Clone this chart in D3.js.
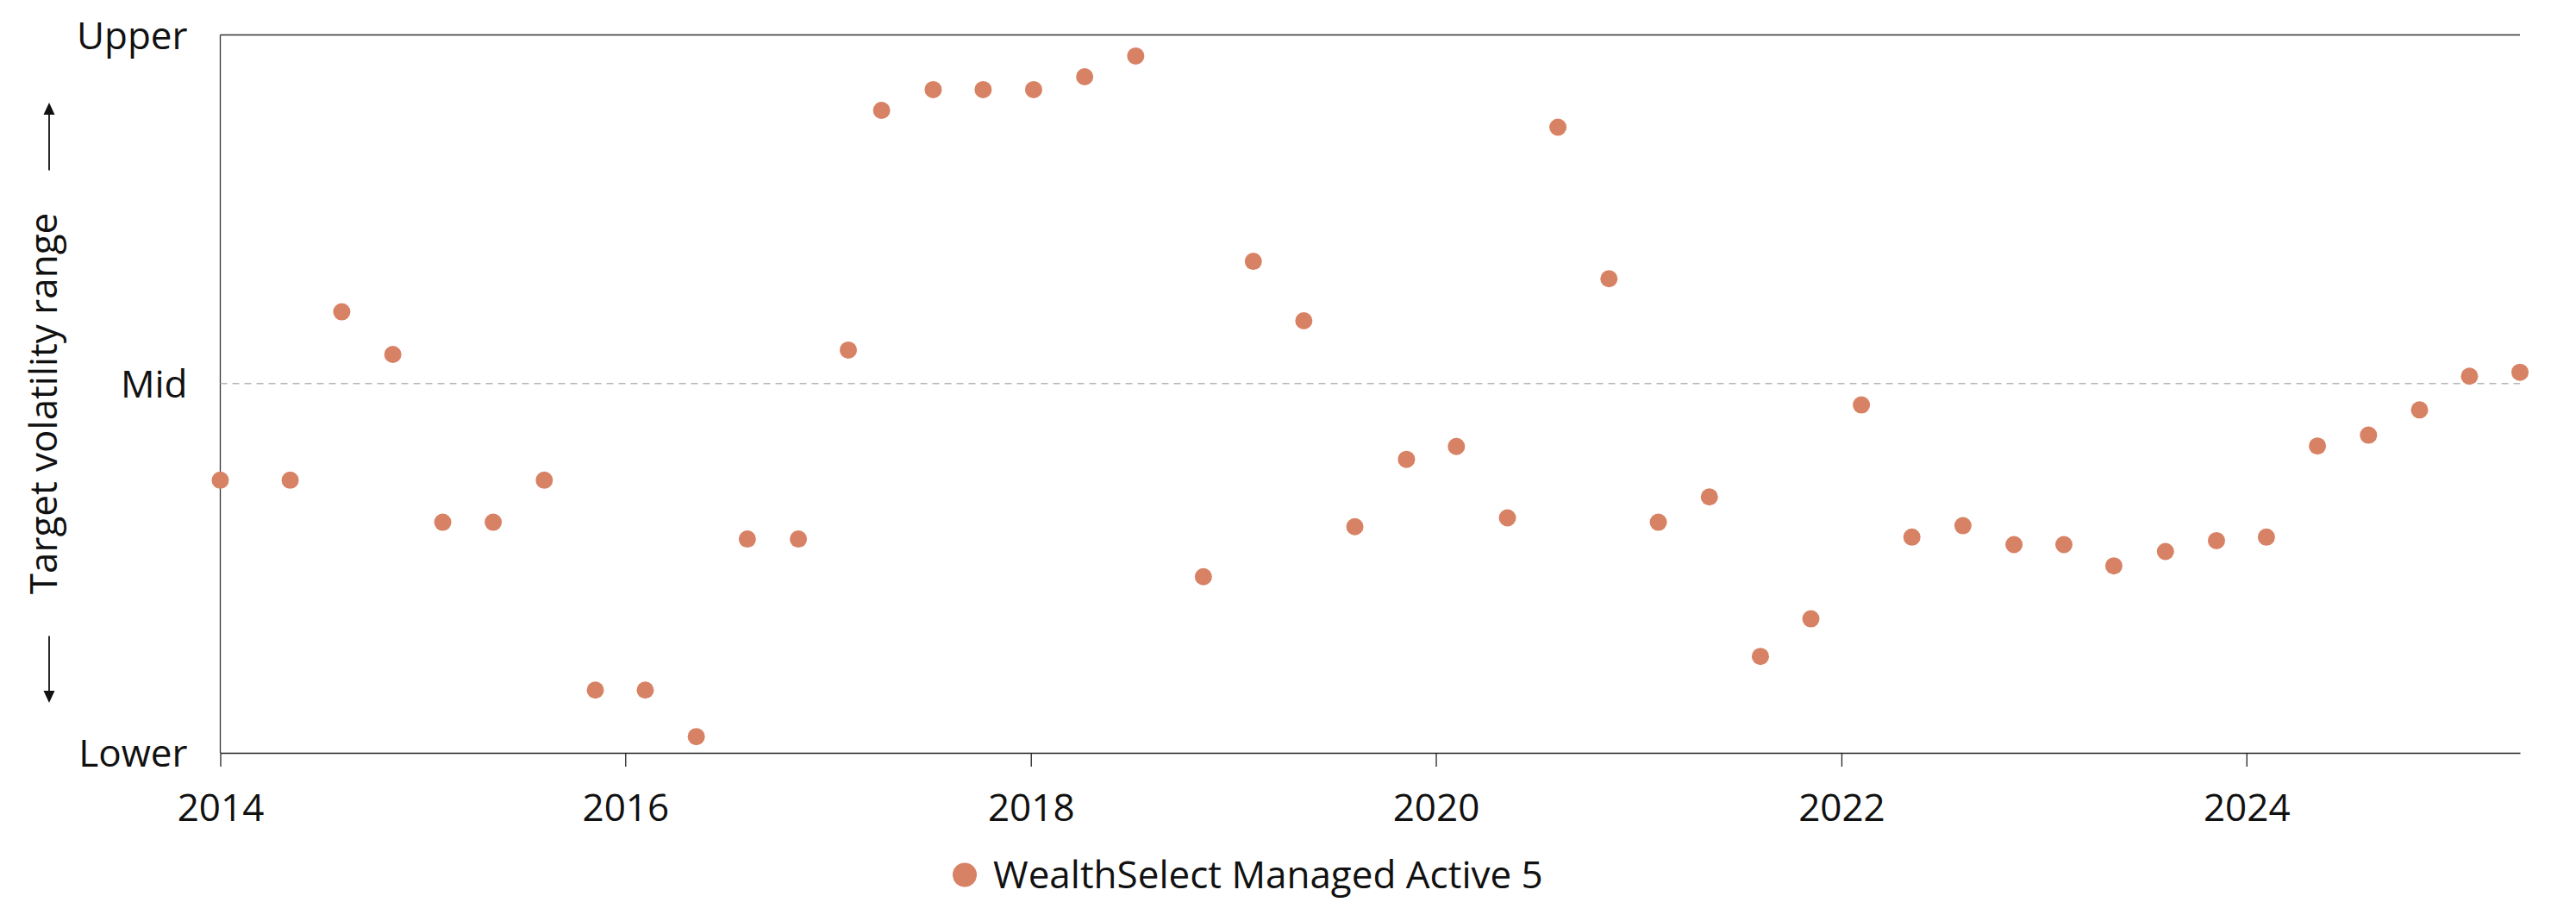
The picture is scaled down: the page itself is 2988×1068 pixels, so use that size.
<!DOCTYPE html>
<html>
<head>
<meta charset="utf-8">
<script src="https://cdn.jsdelivr.net/npm/d3@7"></script>
<style>
  html, body { margin: 0; padding: 0; background: #fff; }
  svg { display: block; font-family: "Open Sans", "Noto Sans", sans-serif; }
</style>
</head>
<body>
<svg id="chart" width="2988" height="1068"></svg>
<script>
// ---- data ----
const seriesName = "WealthSelect Managed Active 5";
const dates = ["2014-01-01","2014-05-07","2014-08-08","2014-11-08","2015-02-06","2015-05-08","2015-08-08","2015-11-08",
  "2016-02-06","2016-05-08","2016-08-08","2016-11-08","2017-02-06","2017-04-07","2017-07-09","2017-10-07",
  "2018-01-06","2018-04-08","2018-07-09","2018-11-08","2019-02-06","2019-05-08","2019-08-08","2019-11-09",
  "2020-02-07","2020-05-09","2020-08-08","2020-11-08","2021-02-05","2021-05-08","2021-08-08","2021-11-07",
  "2022-02-06","2022-05-08","2022-08-08","2022-11-08","2023-02-06","2023-05-07","2023-08-08","2023-11-08",
  "2024-02-06","2024-05-08","2024-08-08","2024-11-08","2025-02-06","2025-05-08"];
const values = [37.98,37.98,61.43,55.50,32.12,32.12,37.98,8.74,8.74,2.26,
  29.78,29.78,56.11,89.49,92.38,92.38,92.38,94.17,97.07,24.53,
  68.46,60.18,31.50,40.88,42.67,32.73,87.15,66.04,32.12,35.64,
  13.43,18.67,48.46,30.05,31.64,29.01,29.01,26.05,28.05,29.56,
  30.05,42.74,44.25,47.77,52.46,53.01];
const yTickValues = [0, 51.45, 100];
const yTickLabels = ["Lower", "Mid", "Upper"];
const xTickYears = [2014, 2016, 2018, 2020, 2022, 2024];
const yTitle = "Target volatility range";

(function () {
// ---- layout ----
const mLeft = 255.5, mRight = 2923, mTop = 40.5, mBottom = 873;
const dotColor = "#d88265";
const fontSize = 44;

const parse = d3.utcParse("%Y-%m-%d");
const data = dates.map((d, i) => ({ date: parse(d), value: values[i] }));

const x = d3.scaleUtc().domain(d3.extent(data, d => d.date)).range([mLeft, mRight]);
const y = d3.scaleLinear().domain([0, 100]).range([mBottom, mTop]);

const svg = d3.select("#chart");

// top frame line
svg.append("line")
  .attr("x1", mLeft).attr("x2", mRight).attr("y1", y(100)).attr("y2", y(100))
  .attr("stroke", "#333").attr("stroke-width", 1.3);

// left frame line
svg.append("line")
  .attr("x1", mLeft).attr("x2", mLeft).attr("y1", y(100)).attr("y2", mBottom)
  .attr("stroke", "#333").attr("stroke-width", 1.3);

// mid dashed reference line
svg.append("line")
  .attr("x1", mLeft).attr("x2", mRight).attr("y1", y(yTickValues[1])).attr("y2", y(yTickValues[1]))
  .attr("stroke", "#b5b5b5").attr("stroke-width", 1.4).attr("stroke-dasharray", "8,6");

// x axis
const xAxis = d3.axisBottom(x)
  .tickValues(xTickYears.map(yr => new Date(Date.UTC(yr, 0, 1))))
  .tickFormat(d3.utcFormat("%Y"))
  .tickSize(16).tickSizeOuter(0).tickPadding(32);
const gx = svg.append("g").attr("transform", `translate(0,${mBottom})`).call(xAxis);
gx.select(".domain").attr("stroke", "#222").attr("stroke-width", 1.6);
gx.selectAll(".tick line").attr("stroke", "#222").attr("stroke-width", 1.3);
gx.selectAll(".tick text").attr("font-size", fontSize).attr("fill", "#111")
  .attr("font-family", "'Open Sans', sans-serif");

// y axis (labels only)
const yAxis = d3.axisLeft(y)
  .tickValues(yTickValues)
  .tickFormat((d, i) => yTickLabels[i])
  .tickSize(0).tickPadding(38);
const gy = svg.append("g").attr("transform", `translate(${mLeft},0)`).call(yAxis);
gy.select(".domain").remove();
gy.selectAll(".tick text").attr("font-size", fontSize).attr("fill", "#111")
  .attr("font-family", "'Open Sans', sans-serif").attr("dy", "0.36em");

// y title
svg.append("text")
  .attr("transform", `translate(65.5,468) rotate(-90)`)
  .attr("text-anchor", "middle")
  .attr("font-size", fontSize).attr("fill", "#111")
  .text(yTitle);

// arrows
const ax = 57;
svg.append("line").attr("x1", ax).attr("x2", ax).attr("y1", 197.5).attr("y2", 130)
  .attr("stroke", "#111").attr("stroke-width", 1.8);
svg.append("path").attr("d", `M${ax},119 L${ax - 6.5},133 L${ax + 6.5},133 Z`).attr("fill", "#111");
svg.append("line").attr("x1", ax).attr("x2", ax).attr("y1", 737.5).attr("y2", 804)
  .attr("stroke", "#111").attr("stroke-width", 1.8);
svg.append("path").attr("d", `M${ax},815 L${ax - 6.5},801 L${ax + 6.5},801 Z`).attr("fill", "#111");

// dots
svg.append("g").selectAll("circle").data(data).join("circle")
  .attr("cx", d => x(d.date))
  .attr("cy", d => y(d.value))
  .attr("r", 10)
  .attr("fill", dotColor);

// legend
const lg = svg.append("g").attr("transform", "translate(1119,1014.5)");
lg.append("circle").attr("r", 14).attr("fill", dotColor);
lg.append("text").attr("x", 33).attr("dy", "0.35em")
  .attr("font-size", fontSize).attr("fill", "#111").text(seriesName);
})();
</script>
</body>
</html>
